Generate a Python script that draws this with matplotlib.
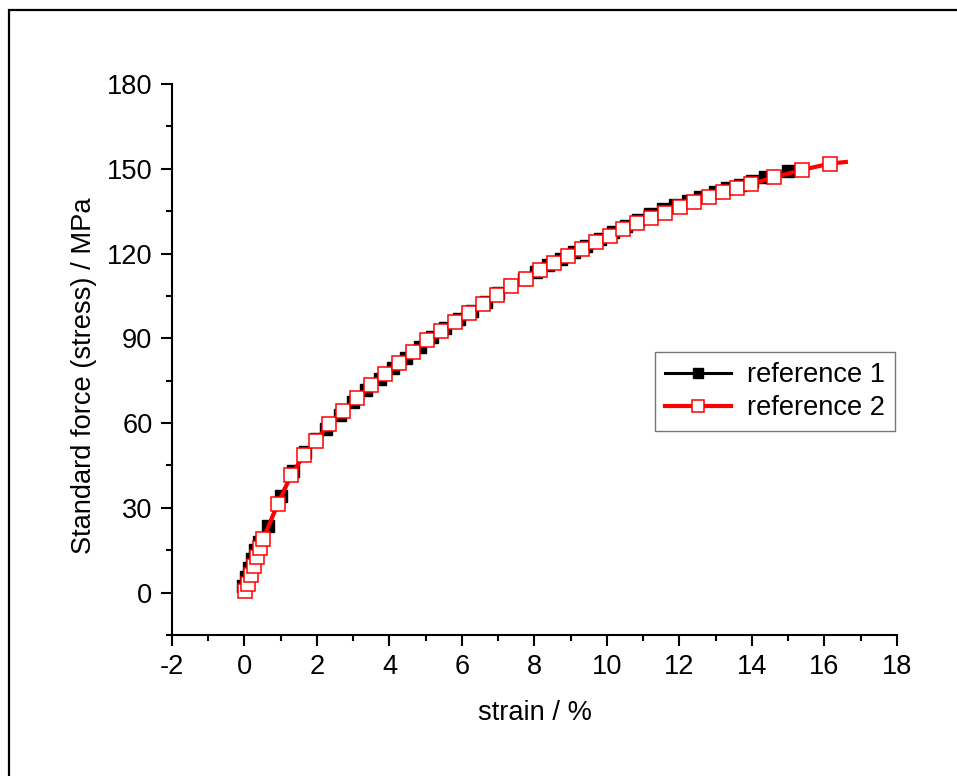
import matplotlib
matplotlib.use("Agg")
import matplotlib.pyplot as plt
from matplotlib.patches import Rectangle
from matplotlib.ticker import MultipleLocator

plt.rcParams["font.family"] = ["Liberation Sans", "DejaVu Sans"]
plt.rcParams["font.size"] = 19.6
plt.rcParams["axes.unicode_minus"] = False

# reference 1: strain (%) / stress (MPa)
strain_1 = [-0.05, 0.03, 0.12, 0.21, 0.30, 0.39, 0.66, 1.00, 1.35, 1.67, 1.97,
            2.26, 2.63, 2.99, 3.36, 3.73, 4.10, 4.46, 4.83, 5.18, 5.52, 5.92,
            6.28, 6.65, 7.00, 7.33, 7.70, 8.03, 8.38, 8.73, 9.08, 9.43, 9.80,
            10.17, 10.52, 10.86, 11.18, 11.54, 11.87, 12.23, 12.57, 12.97,
            13.31, 13.66, 14.00, 14.36, 14.99, 15.20]
stress_1 = [2.5, 5.5, 8.6, 11.8, 15.0, 18.0, 23.7, 34.3, 42.9, 49.6, 54.3,
            57.9, 62.8, 67.4, 71.8, 75.6, 79.4, 83.2, 87.0, 90.6, 93.5, 96.7,
            99.7, 102.9, 106.0, 108.7, 111.0, 113.3, 115.8, 118.2, 120.5, 122.8,
            125.2, 127.5, 129.8, 132.0, 133.9, 135.6, 137.1, 138.7, 140.1, 141.9,
            143.1, 144.4, 145.7, 147.0, 149.2, 149.6]

# reference 2
strain_2 = [0.01, 0.10, 0.18, 0.26, 0.34, 0.43, 0.52, 0.92, 1.29, 1.64, 1.96,
            2.34, 2.73, 3.11, 3.50, 3.88, 4.27, 4.66, 5.04, 5.43, 5.82, 6.20,
            6.59, 6.97, 7.36, 7.77, 8.15, 8.54, 8.93, 9.32, 9.70, 10.08, 10.45,
            10.84, 11.22, 11.61, 12.01, 12.40, 12.81, 13.19, 13.58, 13.97,
            14.62, 15.38, 16.15, 16.59]
stress_2 = [0.7, 3.2, 6.3, 9.3, 12.6, 15.7, 19.1, 31.4, 41.6, 48.6, 53.8,
            59.5, 64.4, 69.0, 73.3, 77.4, 81.4, 85.2, 89.4, 92.6, 95.9, 99.1,
            102.3, 105.4, 108.5, 111.1, 114.0, 116.7, 119.2, 121.6, 124.0,
            126.3, 128.6, 130.7, 132.7, 134.5, 136.4, 138.3, 140.1, 141.8,
            143.3, 144.6, 147.0, 149.6, 151.8, 152.4]

fig = plt.figure(figsize=(9.57, 7.76), dpi=100)
ax = fig.add_axes([0.1797, 0.1817, 0.7576, 0.7101])

# outer frame (only left/top edges fall inside the canvas)
fig.patches.append(Rectangle((0.0099, -0.1), 1.2, 1.0865, transform=fig.transFigure,
                             fill=False, edgecolor="black", linewidth=1.6,
                             clip_on=False))

ax.plot(strain_1, stress_1, color="black", lw=2.2, marker="s", ms=9,
        mfc="black", mec="black", markevery=slice(0, -1), label="reference 1",
        zorder=3)
ax.plot(strain_2, stress_2, color="red", lw=3.0, marker="s", ms=9.5,
        mfc="white", mec="red", mew=1.1, markevery=slice(0, -1),
        label="reference 2", zorder=4)

ax.set_xlim(-2, 18)
ax.set_ylim(-15, 180)
ax.xaxis.set_major_locator(MultipleLocator(2))
ax.xaxis.set_minor_locator(MultipleLocator(1))
ax.yaxis.set_major_locator(MultipleLocator(30))
ax.yaxis.set_minor_locator(MultipleLocator(15))

for side in ("top", "right"):
    ax.spines[side].set_visible(False)
for side in ("left", "bottom"):
    ax.spines[side].set_linewidth(1.5)
ax.tick_params(which="major", direction="out", length=8, width=1.5, pad=6)
ax.tick_params(which="minor", direction="out", length=4.5, width=1.5)

ax.set_xlabel("strain / %", labelpad=14)
ax.set_ylabel("Standard force (stress) / MPa")
ax.yaxis.set_label_coords(-0.104, 0.47)

leg = ax.legend(loc="upper left", bbox_to_anchor=(0.6844, 0.5464),
                bbox_transform=fig.transFigure, numpoints=1, fancybox=False,
                handlelength=2.4, handletextpad=0.6, labelspacing=0.25,
                borderpad=0.38, borderaxespad=0, markerscale=0.85)
leg.get_frame().set_edgecolor("#555555")
leg.get_frame().set_linewidth(1.0)

fig.savefig("out.png", dpi=100)
